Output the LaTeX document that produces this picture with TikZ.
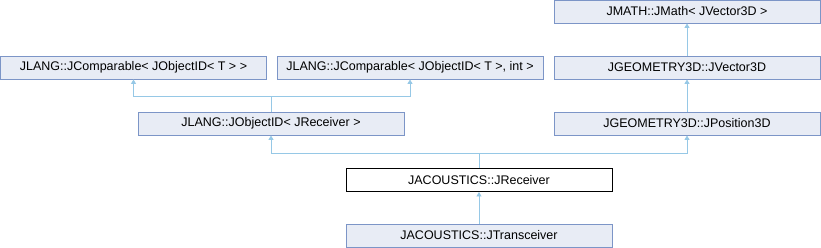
\documentclass[tikz,border=0pt]{standalone}
\usepackage{fontspec}
\setmainfont{Liberation Sans}
\usetikzlibrary{arrows.meta}
\definecolor{edgeblue}{RGB}{150,200,230}
\definecolor{boxfill}{RGB}{232,236,245}
\definecolor{boxdraw}{RGB}{124,149,199}

\begin{document}
\begin{tikzpicture}[x=1pt, y=-1pt,
    box/.style={rectangle, draw=boxdraw, line width=0.9pt, fill=boxfill,
        minimum width=266pt, minimum height=23pt, inner sep=0pt,
        font=\fontsize{12.5}{14}\selectfont},
    cur/.style={box, draw=black, fill=white},
    arr/.style={-{Triangle[length=4.5pt, width=5pt]}, line width=0.9pt, edgeblue}
]
    \useasboundingbox (0,0) rectangle (821,248);
    \node[box] (jmath) at (687,11.5) {JMATH::JMath< JVector3D >};
    \node[box] (jcomp) at (133.5,67.5) {JLANG::JComparable< JObjectID< T > >};
    \node[box] (jcompint) at (410,67.5) {JLANG::JComparable< JObjectID< T >, int >};
    \node[box] (jvec) at (687,67.5) {JGEOMETRY3D::JVector3D};
    \node[box] (jobj) at (271,123.5) {JLANG::JObjectID< JReceiver >};
    \node[box] (jpos) at (687,123.5) {JGEOMETRY3D::JPosition3D};
    \node[cur] (jrec) at (479,180) {JACOUSTICS::JReceiver};
    \node[box] (jtrans) at (479,235.5) {JACOUSTICS::JTransceiver};

    \draw[arr] (jvec) -- (jmath);
    \draw[arr] (jpos) -- (jvec);
    \draw[arr] (jobj.north) -- ++(0,-15) -| (jcomp.south);
    \draw[arr] (jobj.north) -- ++(0,-15) -| (jcompint.south);
    \draw[arr] (jrec.north) -- ++(0,-15) -| (jobj.south);
    \draw[arr] (jrec.north) -- ++(0,-15) -| (jpos.south);
    \draw[arr] (jtrans) -- (jrec);
\end{tikzpicture}
\end{document}
